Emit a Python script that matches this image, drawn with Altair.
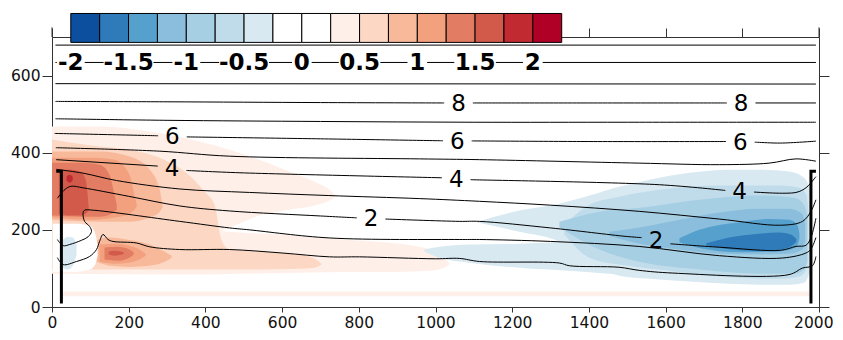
import altair as alt
import numpy as np
import pandas as pd

FONT = "DejaVu Sans"

# ---------------- colour bar ----------------
LEVELS = [-2.0, -1.75, -1.5, -1.25, -1.0, -0.75, -0.5, -0.25, 0.0,
          0.25, 0.5, 0.75, 1.0, 1.25, 1.5, 1.75, 2.0]
COLORS = ["#0b4f9e", "#2f7ab8", "#56a0ce", "#8abedc", "#a7cfe4", "#c0dceb", "#d8e9f2",
          "#ffffff", "#ffffff",
          "#fef0e9", "#fcd8c4", "#f8b99b", "#f3a07f", "#e27c62", "#d25a4b", "#c02a30", "#b00026"]
CB_LABELS = ["-2", "-1.5", "-1", "-0.5", "0", "0.5", "1", "1.5", "2"]
CB_LABEL_LEVELS = [-2, -1.5, -1, -0.5, 0, 0.5, 1, 1.5, 2]

X_TICKS = list(range(0, 2001, 200))
Y_TICKS = [0, 200, 400, 600]

# ---------------- contour lines (x, y) ----------------
CONTOUR_X = {
    "11": [9, 1992],
    "10": [9, 1992],
    "9": [9, 1992],
    "8": [9, 300, 700, 1018, 1400, 1992],
    "7": [9, 300, 700, 1100, 1500, 1992],
    "6": [7, 273, 351, 700, 1018, 1400, 1766, 1840, 1900, 1992],
    "5": [10, 281, 463, 958, 1115, 1531, 1740, 1870, 1940, 1992],
    "4": [11, 281, 350, 490, 1018, 1093, 1584, 1758, 1831, 1940, 1966, 1979, 1992],
    "3": [11, 81, 168, 333, 515, 720, 959, 1115, 1300, 1531, 1740, 1900, 1957, 1979, 1992],
    "2": [14, 34, 50, 81, 200, 333, 463, 700, 797, 871, 1062, 1115, 1300, 1497, 1549,
          1610, 1740, 1900, 1940, 1966, 1979, 1992],
    "1": [14, 29, 46, 77, 94, 103, 98, 85, 81, 85, 107, 333, 463, 515, 724, 1062, 1115,
          1300, 1531, 1740, 1905, 1966, 1979, 1992],
    "0": [14, 29, 64, 98, 116, 124, 133, 146, 159, 220, 255, 333, 463, 600, 724, 802,
          1000, 1062, 1115, 1323, 1349, 1479, 1531, 1619, 1922, 1957, 1983, 1992],
}
CONTOUR_Y = {
    "11": [679, 679],
    "10": [634, 634],
    "9": [579, 578],
    "8": [533, 532, 530, 529, 529, 529],
    "7": [488, 484, 481, 479, 479, 479],
    "6": [450, 444, 441, 436, 431, 429, 429, 427, 425, 430],
    "5": [413, 404, 391, 384, 382, 373, 369, 373, 384, 378],
    "4": [382, 365, 354, 348, 335, 330, 317, 302, 298, 297, 309, 322, 338],
    "3": [357, 347, 328, 306, 297, 289, 281, 274, 264, 248, 228, 212, 222, 248, 278],
    "2": [282, 305, 313, 309, 287, 262, 249, 236, 231, 228, 222, 222, 205, 183, 179,
          164, 155, 147, 157, 160, 180, 230],
    "1": [175, 159, 162, 173, 182, 196, 209, 222, 244, 251, 251, 222, 205, 200, 179, 175, 175,
          170, 157, 133, 127, 140, 150, 180],
    "0": [128, 110, 118, 131, 149, 170, 188, 175, 170, 166, 156, 149, 149, 140, 130, 130,
          125, 126, 118, 114, 107, 103, 95, 88, 84, 101, 107, 131],
}
# inline label positions (x) for labelled contours
CONTOUR_LABEL_X = {
    "8": [1060, 1797],
    "6": [314, 1057, 1795],
    "4": [313, 1054, 1793],
    "2": [832, 1575],
}

# ---------------- filled regions: (level, x, upper y, lower y) ----------------
FILLS = [
    (0.25, [28, 1975], [40, 40], [28, 28]),
    (0.25, [0, 124, 255, 385, 463, 541, 619, 685, 724, 739],
           [468, 468, 455, 429, 408, 382, 351, 325, 304, 289],
           [174, 174, 174, 180, 206, 237, 252, 263, 276, 286]),
    (0.25, [0, 385, 489, 645, 776, 906, 984, 1023, 1036],
           [200, 200, 193, 185, 174, 164, 149, 128, 115],
           [86, 84, 86, 89, 91, 91, 94, 102, 110]),
    (0.5, [0, 124, 202, 281, 346, 398, 424, 442, 463, 541, 645, 685, 703],
          [434, 416, 408, 387, 351, 299, 265, 174, 149, 143, 136, 125, 112],
          [97, 97, 97, 97, 97, 97, 97, 97, 97, 97, 99, 102, 110]),
    (0.75, [0, 124, 202, 255, 281, 288], [403, 403, 390, 356, 304, 265], [226, 221, 221, 232, 247, 257]),
    (1.0, [0, 98, 163, 202, 215, 221], [387, 387, 382, 343, 291, 265], [232, 226, 232, 242, 252, 260]),
    (1.25, [0, 72, 124, 150, 163, 169], [374, 374, 369, 343, 291, 265], [237, 234, 234, 239, 247, 252]),
    (1.5, [18, 46, 72, 88, 93, 96], [356, 356, 351, 330, 291, 252], [242, 237, 237, 242, 247, 250]),
    (1.75, [38, 46, 54], [338, 343, 338], [328, 322, 328]),
    (0.75, [116, 150, 202, 255, 294, 312], [174, 180, 174, 162, 143, 133], [117, 107, 104, 107, 117, 128]),
    (1.0, [124, 163, 202, 228, 244], [162, 164, 159, 149, 138], [117, 112, 115, 123, 133]),
    (1.25, [137, 171, 202, 213], [154, 156, 149, 141], [123, 120, 128, 136]),
    (1.5, [148, 163, 182, 187], [143, 146, 143, 141], [136, 133, 136, 138]),
    (0.0, [2, 59, 98, 111, 119], [216, 216, 211, 195, 162], [91, 91, 97, 107, 133]),
    (-0.5, [28, 41, 54, 64], [174, 182, 180, 162], [102, 97, 107, 136]),
    (-0.5, [971, 1010, 1088, 1219, 1349, 1453, 1532],
           [149, 156, 162, 164, 169, 174, 180], [143, 128, 115, 102, 94, 86, 81]),
    (-0.5, [1109, 1219, 1323, 1401, 1479, 1558, 1662, 1766, 1844, 1922, 1961, 1977],
           [221, 250, 268, 289, 312, 330, 348, 356, 356, 351, 335, 309],
           [219, 195, 169, 117, 81, 73, 66, 60, 58, 58, 63, 91]),
    (-0.75, [1336, 1401, 1479, 1584, 1740, 1896, 1949, 1967, 1972],
            [213, 265, 286, 304, 315, 315, 309, 291, 252],
            [188, 128, 110, 97, 79, 73, 79, 97, 123]),
    (-1.0, [1323, 1427, 1532, 1688, 1844, 1936, 1961, 1969],
           [221, 247, 257, 278, 289, 283, 265, 239],
           [206, 149, 117, 97, 86, 86, 97, 117]),
    (-1.25, [1453, 1532, 1636, 1740, 1844, 1922, 1956, 1964],
            [195, 206, 226, 245, 255, 255, 242, 213],
            [185, 164, 149, 138, 136, 138, 149, 174]),
    (-1.5, [1636, 1688, 1792, 1870, 1922, 1943, 1949],
           [178, 200, 220, 228, 226, 213, 190],
           [168, 153, 142, 143, 148, 160, 178]),
    (-1.75, [1706, 1766, 1844, 1896, 1928, 1941],
            [165, 180, 190, 193, 187, 176],
            [160, 150, 146, 148, 158, 170]),
]

# walls
WALL_X = {"left": [11, 24.5, 24.5], "right": [1992, 1979, 1979]}
WALL_Y = [352, 352, 9]

# ---------------- layout constants ----------------
W, H = 767, 270
UNITS_PER_PX = 2000 / W
CB_X0, CB_STEP = 49, 75.3      # colour-bar left edge and box width (x units)
CB_Y0, CB_Y1 = 686, 761        # colour-bar bottom / top (y units)
CB_LINE = "10"
LAB_SIZE = 23
AX_SIZE = 15.5

XS = alt.Scale(domain=[0, 2000], nice=False, zero=False)
YS = alt.Scale(domain=[0, 700], nice=False, zero=False)
color_of = dict(zip(LEVELS, COLORS))


def text_w(t, size):
    w = 0.0
    for c in t:
        w += 0.636 if c.isdigit() else (0.36 if c == "-" else 0.318)
    return w * size


def split_line(xs, ys, gaps):
    pts = list(zip(xs, ys))
    for a, b in gaps:
        pts.append((a, float(np.interp(a, xs, ys))))
        pts.append((b, float(np.interp(b, xs, ys))))
    pts.sort()
    segs, cur = [], []
    for x, y in pts:
        if any(a < x < b for a, b in gaps):
            continue
        cur.append((x, y))
        if any(abs(x - a) < 1e-9 for a, b in gaps):
            segs.append(cur)
            cur = []
    if cur:
        segs.append(cur)
    return segs


def xenc(axis=None):
    return alt.X("x:Q", scale=XS, axis=axis, title=None)


def yenc(axis=None):
    return alt.Y("y:Q", scale=YS, axis=axis, title=None)


last_x = f"datum.value == {X_TICKS[-1]}"

# ---------------- fills ----------------
layers = []
for i, (lev, xs, tops, bots) in enumerate(FILLS):
    df = pd.DataFrame({"x": xs, "y": tops, "y2": bots})
    if i == 0:
        xa = alt.Axis(orient="bottom", values=X_TICKS, format="d", tickSize=5, labelFontSize=AX_SIZE,
                      labelFont=FONT, labelColor="#111", labelPadding=3, domainColor="#333",
                      tickColor="#333", grid=False, labelFlush=False, labelOverlap=False,
                      labelAlign={"condition": {"test": last_x, "value": "right"}, "value": "center"},
                      labelOffset={"condition": {"test": last_x, "value": 14}, "value": 0})
        ya = alt.Axis(orient="left", values=Y_TICKS, format="d", tickSize=10, labelFontSize=AX_SIZE,
                      labelFont=FONT, labelColor="#111", labelPadding=2, domainColor="#333",
                      tickColor="#333", grid=False, labelFlush=False, labelOverlap=False)
    else:
        xa, ya = None, None
    layers.append(
        alt.Chart(df).mark_area(color=color_of[lev], opacity=1, interpolate="monotone", strokeWidth=0)
        .encode(x=xenc(xa), y=yenc(ya), y2="y2:Q")
    )

# ---------------- contour lines and labels ----------------
rows, lab_rows = [], []
for name, xs in CONTOUR_X.items():
    ys = CONTOUR_Y[name]
    if name == CB_LINE:
        labels = [(CB_X0 + (lv + 2) / 0.25 * CB_STEP, t) for lv, t in zip(CB_LABEL_LEVELS, CB_LABELS)]
        pad = 2.5
    else:
        labels = [(lx, name) for lx in CONTOUR_LABEL_X.get(name, [])]
        pad = 7
    gaps = [(lx - (text_w(t, LAB_SIZE) / 2 + pad) * UNITS_PER_PX,
             lx + (text_w(t, LAB_SIZE) / 2 + pad) * UNITS_PER_PX) for lx, t in labels]
    segs = split_line(xs, ys, gaps) if gaps else [list(zip(xs, ys))]
    for si, seg in enumerate(segs):
        for k, (x, y) in enumerate(seg):
            rows.append({"seg": f"{name}_{si}", "i": k, "x": x, "y": y})
    for lx, t in labels:
        lab_rows.append({"x": lx, "y": float(np.interp(lx, xs, ys)), "t": t,
                         "cb": name == CB_LINE})

lines_df = pd.DataFrame(rows)
labs_df = pd.DataFrame(lab_rows)

lines = alt.Chart(lines_df).mark_line(color="black", strokeWidth=1, interpolate="catmull-rom").encode(
    x=xenc(), y=yenc(), detail="seg:N", order="i:Q")

clabels = alt.Chart(labs_df[~labs_df.cb]).mark_text(
    font=FONT, fontSize=LAB_SIZE, color="black", align="center", baseline="middle", dy=1
).encode(x=xenc(), y=yenc(), text="t:N")

cblabels = alt.Chart(labs_df[labs_df.cb]).mark_text(
    font=FONT, fontSize=LAB_SIZE, fontWeight="bold", color="black", align="center",
    baseline="middle", dy=1
).encode(x=xenc(), y=yenc(), text="t:N")

# ---------------- walls ----------------
wrows = []
for side, xs in WALL_X.items():
    for k, (x, y) in enumerate(zip(xs, WALL_Y)):
        wrows.append({"side": side, "i": k, "x": x, "y": y})
walls = alt.Chart(pd.DataFrame(wrows)).mark_line(color="black", strokeWidth=3, strokeCap="butt").encode(
    x=xenc(), y=yenc(), detail="side:N", order="i:Q")

# ---------------- colour bar ----------------
cb_df = pd.DataFrame({
    "lev": LEVELS,
    "x": [CB_X0 + k * CB_STEP for k in range(len(LEVELS))],
    "x2": [CB_X0 + (k + 1) * CB_STEP for k in range(len(LEVELS))],
    "y": [CB_Y0] * len(LEVELS),
    "y2": [CB_Y1] * len(LEVELS),
})
cbar = alt.Chart(cb_df).mark_rect(stroke="black", strokeWidth=1).encode(
    x=xenc(), x2="x2:Q", y=yenc(), y2="y2:Q",
    color=alt.Color("lev:O", scale=alt.Scale(domain=LEVELS, range=COLORS), legend=None))

# ---------------- frame: top/right axes and spine extensions ----------------
frame_df = pd.DataFrame({"x": [0, 2000], "y": [700, 700], "y2": [725, 725]})
frame = alt.Chart(frame_df).mark_rule(color="#333", strokeWidth=1).encode(
    x=alt.X("x:Q", scale=XS, title=None,
            axis=alt.Axis(orient="top", values=X_TICKS, tickSize=9, labels=False,
                          domainColor="#333", tickColor="#333", grid=False)),
    y=alt.Y("y:Q", scale=YS, title=None,
            axis=alt.Axis(orient="right", values=Y_TICKS, tickSize=10, labels=False,
                          domainColor="#333", tickColor="#333", grid=False)),
    y2="y2:Q")

chart = alt.layer(*layers, lines, clabels, walls, frame, cbar, cblabels).properties(
    width=W, height=H,
    autosize=alt.AutoSizeParams(type="none"),
    padding={"left": 44, "top": 29, "right": 16, "bottom": 25},
).configure_view(stroke=None)

chart.save("out.html", embed_options={"renderer": "svg", "actions": False})
